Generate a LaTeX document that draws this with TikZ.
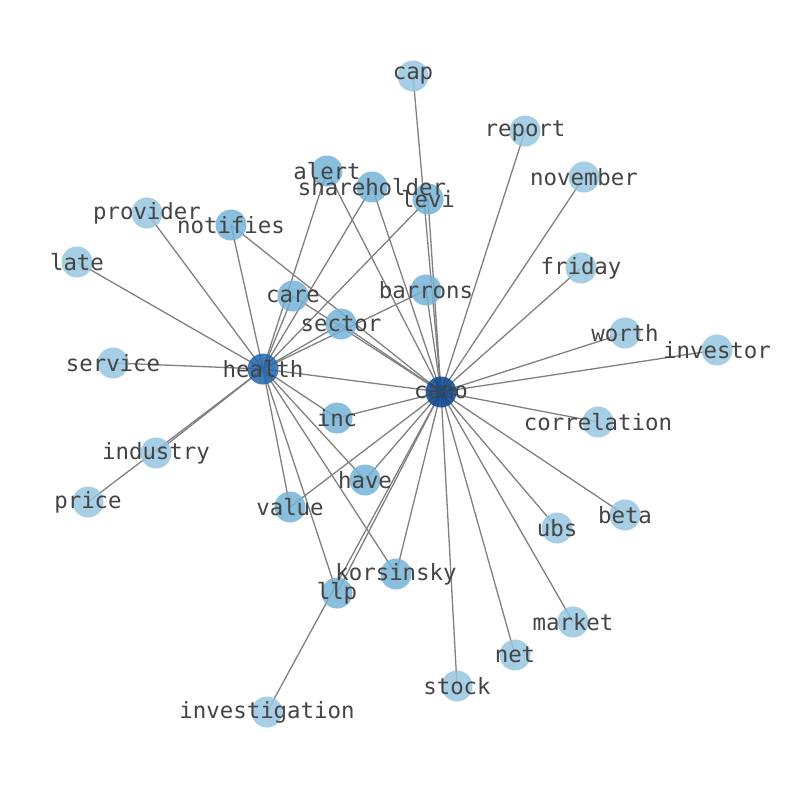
\documentclass[tikz,border=0pt]{standalone}
\usepackage{fontspec}
\newfontfamily\wordfont{DejaVu Sans Mono}
\usetikzlibrary{backgrounds}
\definecolor{leafblue}{RGB}{150,198,223}
\definecolor{sharedblue}{RGB}{116,179,215}
\definecolor{healthblue}{RGB}{32,102,173}
\definecolor{canoblue}{RGB}{8,68,142}
\definecolor{wordgray}{RGB}{68,68,68}

\begin{document}
\begin{tikzpicture}[x=1pt,y=-1pt]
\tikzstyle{word}=[circle,minimum size=31pt,inner sep=0pt,fill opacity=0.85];
\tikzstyle{leaf}=[word,fill=leafblue];
\tikzstyle{shared}=[word,fill=sharedblue];
\tikzstyle{edge}=[draw=gray,line width=1.3pt];
\tikzstyle{lbl}=[font=\wordfont\fontsize{22.4}{23}\selectfont,text=wordgray,inner sep=0pt];
\useasboundingbox (0,0) rectangle (794,790);

% the two hubs
\node[word,fill=healthblue] (health) at (263,369) {};
\node[word,fill=canoblue] (cano) at (441,392) {};

% words shared by both
\node[shared] (alert) at (327,171) {};
\node[shared] (shareholder) at (372,187) {};
\node[shared] (levi) at (428,199) {};
\node[shared] (notifies) at (231,225) {};
\node[shared] (care) at (293,296) {};
\node[shared] (barrons) at (426,290) {};
\node[shared] (sector) at (341,324) {};
\node[shared] (inc) at (337,418) {};
\node[shared] (have) at (365,480) {};
\node[shared] (value) at (290,507) {};
\node[shared] (korsinsky) at (396,574) {};
\node[shared] (llp) at (337,593) {};

% words of health only
\node[leaf] (provider) at (147,213) {};
\node[leaf] (late) at (77,262) {};
\node[leaf] (service) at (113,363) {};
\node[leaf] (industry) at (156,453) {};
\node[leaf] (price) at (88,502) {};

% words of cano only
\node[leaf] (cap) at (413,76) {};
\node[leaf] (report) at (525,131) {};
\node[leaf] (november) at (584,177) {};
\node[leaf] (friday) at (581,268) {};
\node[leaf] (worth) at (625,333) {};
\node[leaf] (investor) at (717,350) {};
\node[leaf] (correlation) at (598,422) {};
\node[leaf] (beta) at (625,515) {};
\node[leaf] (ubs) at (557,528) {};
\node[leaf] (market) at (573,622) {};
\node[leaf] (net) at (515,655) {};
\node[leaf] (stock) at (457,686) {};
\node[leaf] (investigation) at (267,712) {};

\begin{pgfonlayer}{background}
\draw[edge] (health.center) -- (cano.center);
\foreach \n in {alert,shareholder,levi,notifies,care,barrons,sector,inc,have,value,korsinsky,llp}
{
	\draw[edge] (health.center) -- (\n.center);
	\draw[edge] (cano.center) -- (\n.center);
}
\foreach \n in {provider,late,service,industry,price}
	\draw[edge] (health.center) -- (\n.center);
\foreach \n in {cap,report,november,friday,worth,investor,correlation,beta,ubs,market,net,stock,investigation}
	\draw[edge] (cano.center) -- (\n.center);
\end{pgfonlayer}

% labels on top of every circle
\foreach \n in {health,cano,alert,shareholder,levi,notifies,care,barrons,sector,inc,have,value,korsinsky,llp,provider,late,service,industry,price,cap,report,november,friday,worth,investor,correlation,beta,ubs,market,net,stock,investigation}
	\node[lbl] at (\n) {\n};
\end{tikzpicture}
\end{document}
